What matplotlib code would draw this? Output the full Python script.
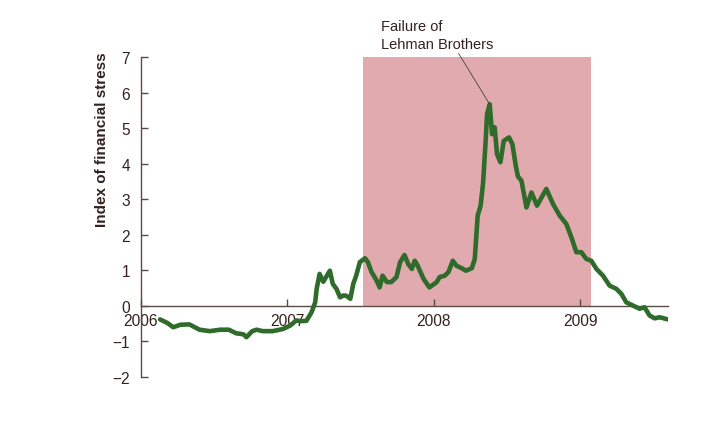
import matplotlib
matplotlib.use("Agg")
import matplotlib.pyplot as plt

plt.rcParams['font.family'] = ['Liberation Sans', 'DejaVu Sans']

# Weekly-ish readings (decimal year, index value)
years = [2006.13, 2006.18, 2006.22, 2006.27, 2006.33, 2006.40, 2006.47, 2006.54,
         2006.60, 2006.65, 2006.70, 2006.72, 2006.76, 2006.79, 2006.83, 2006.90,
         2006.97, 2007.02, 2007.06, 2007.09, 2007.13, 2007.165, 2007.19, 2007.20,
         2007.22, 2007.245, 2007.27, 2007.29, 2007.31, 2007.335, 2007.36, 2007.38,
         2007.40, 2007.43, 2007.45, 2007.47, 2007.495, 2007.53, 2007.55, 2007.575,
         2007.61, 2007.63, 2007.65, 2007.68, 2007.71, 2007.745, 2007.77, 2007.80,
         2007.825, 2007.85, 2007.87, 2007.89, 2007.93, 2007.97, 2008.02, 2008.04,
         2008.075, 2008.10, 2008.13, 2008.155, 2008.19, 2008.22, 2008.26, 2008.28,
         2008.30, 2008.32, 2008.337, 2008.355, 2008.364, 2008.382, 2008.398, 2008.416,
         2008.432, 2008.455, 2008.478, 2008.514, 2008.537, 2008.56, 2008.575, 2008.599,
         2008.633, 2008.667, 2008.705, 2008.769, 2008.814, 2008.86, 2008.906, 2008.94,
         2008.974, 2009.008, 2009.042, 2009.076, 2009.111, 2009.156, 2009.201, 2009.247,
         2009.281, 2009.315, 2009.36, 2009.406, 2009.44, 2009.474, 2009.509, 2009.543,
         2009.599]
values = [-0.38, -0.48, -0.60, -0.53, -0.52, -0.67, -0.71, -0.67,
          -0.67, -0.77, -0.80, -0.88, -0.71, -0.67, -0.71, -0.71,
          -0.65, -0.55, -0.41, -0.43, -0.42, -0.18, 0.10, 0.48,
          0.90, 0.68, 0.85, 0.99, 0.62, 0.48, 0.24, 0.29,
          0.29, 0.20, 0.62, 0.85, 1.23, 1.34, 1.23, 0.95,
          0.71, 0.52, 0.85, 0.67, 0.67, 0.81, 1.23, 1.43,
          1.18, 1.04, 1.27, 1.13, 0.76, 0.52, 0.67, 0.81,
          0.85, 0.95, 1.27, 1.13, 1.06, 0.99, 1.06, 1.32,
          2.54, 2.82, 3.47, 4.69, 5.39, 5.67, 4.83, 5.02,
          4.27, 4.04, 4.64, 4.74, 4.55, 3.94, 3.64, 3.52,
          2.77, 3.19, 2.82, 3.29, 2.87, 2.54, 2.30, 1.93,
          1.51, 1.51, 1.32, 1.27, 1.04, 0.85, 0.57, 0.48,
          0.34, 0.10, 0.01, -0.08, -0.04, -0.27, -0.35, -0.32,
          -0.38]

shade_start = 2007.517
shade_end = 2009.077
shade_top = 7

peak_year = 2008.382
peak_value = 5.67
annot_text = "Failure of\nLehman Brothers"

x_ticks = [2006, 2007, 2008, 2009]
x_labels = ["2006", "2007", "2008", "2009"]
y_ticks = [-2, -1, 0, 1, 2, 3, 4, 5, 6, 7]
y_labels = ["\u22122", "\u22121", "0", "1", "2", "3", "4", "5", "6", "7"]

axis_color = "#5c4a44"
text_color = "#33231f"
line_color = "#2f6b2b"
shade_color = "#e1aaae"

fig = plt.figure(figsize=(7.23, 4.27), dpi=100)
ax = fig.add_axes([141/723, 49/427, (668-141)/723, (378-58)/427])

ax.fill_between([shade_start, shade_end], 0, shade_top, color=shade_color,
                linewidth=0, zorder=1)
ax.plot(years, values, color=line_color, linewidth=3.3, zorder=3,
        solid_joinstyle='round', solid_capstyle='round')

ax.set_xlim(2006, 2009.6)
ax.set_ylim(-2, 7)

for s in ['top', 'right']:
    ax.spines[s].set_visible(False)
ax.spines['bottom'].set_position(('data', 0))
for s in ['left', 'bottom']:
    ax.spines[s].set_color(axis_color)
    ax.spines[s].set_linewidth(1.0)

ax.set_xticks(x_ticks)
ax.set_xticklabels(x_labels)
ax.set_yticks(y_ticks)
ax.set_yticklabels(y_labels)
ax.tick_params(axis='x', direction='in', length=5, width=1, color=axis_color,
               labelcolor=text_color, labelsize=11.2, pad=5)
ax.tick_params(axis='y', direction='in', length=5, width=1, color=axis_color,
               labelcolor=text_color, labelsize=11.2, pad=8)

ax.text(-0.074, 0.744, "Index of financial stress", transform=ax.transAxes,
        rotation=90, ha='center', va='center', fontsize=11, fontweight='bold',
        color=text_color)

ax.annotate(annot_text, xy=(peak_year, peak_value), xytext=(2007.642, 7.18),
            textcoords='data', ha='left', va='bottom', fontsize=10.5,
            color=text_color, linespacing=1.35, annotation_clip=False,
            arrowprops=dict(arrowstyle='-', color='#444444', lw=0.6,
                            shrinkA=0, shrinkB=0, relpos=(0.62, 0.3)))

fig.savefig("out.png", dpi=100)
